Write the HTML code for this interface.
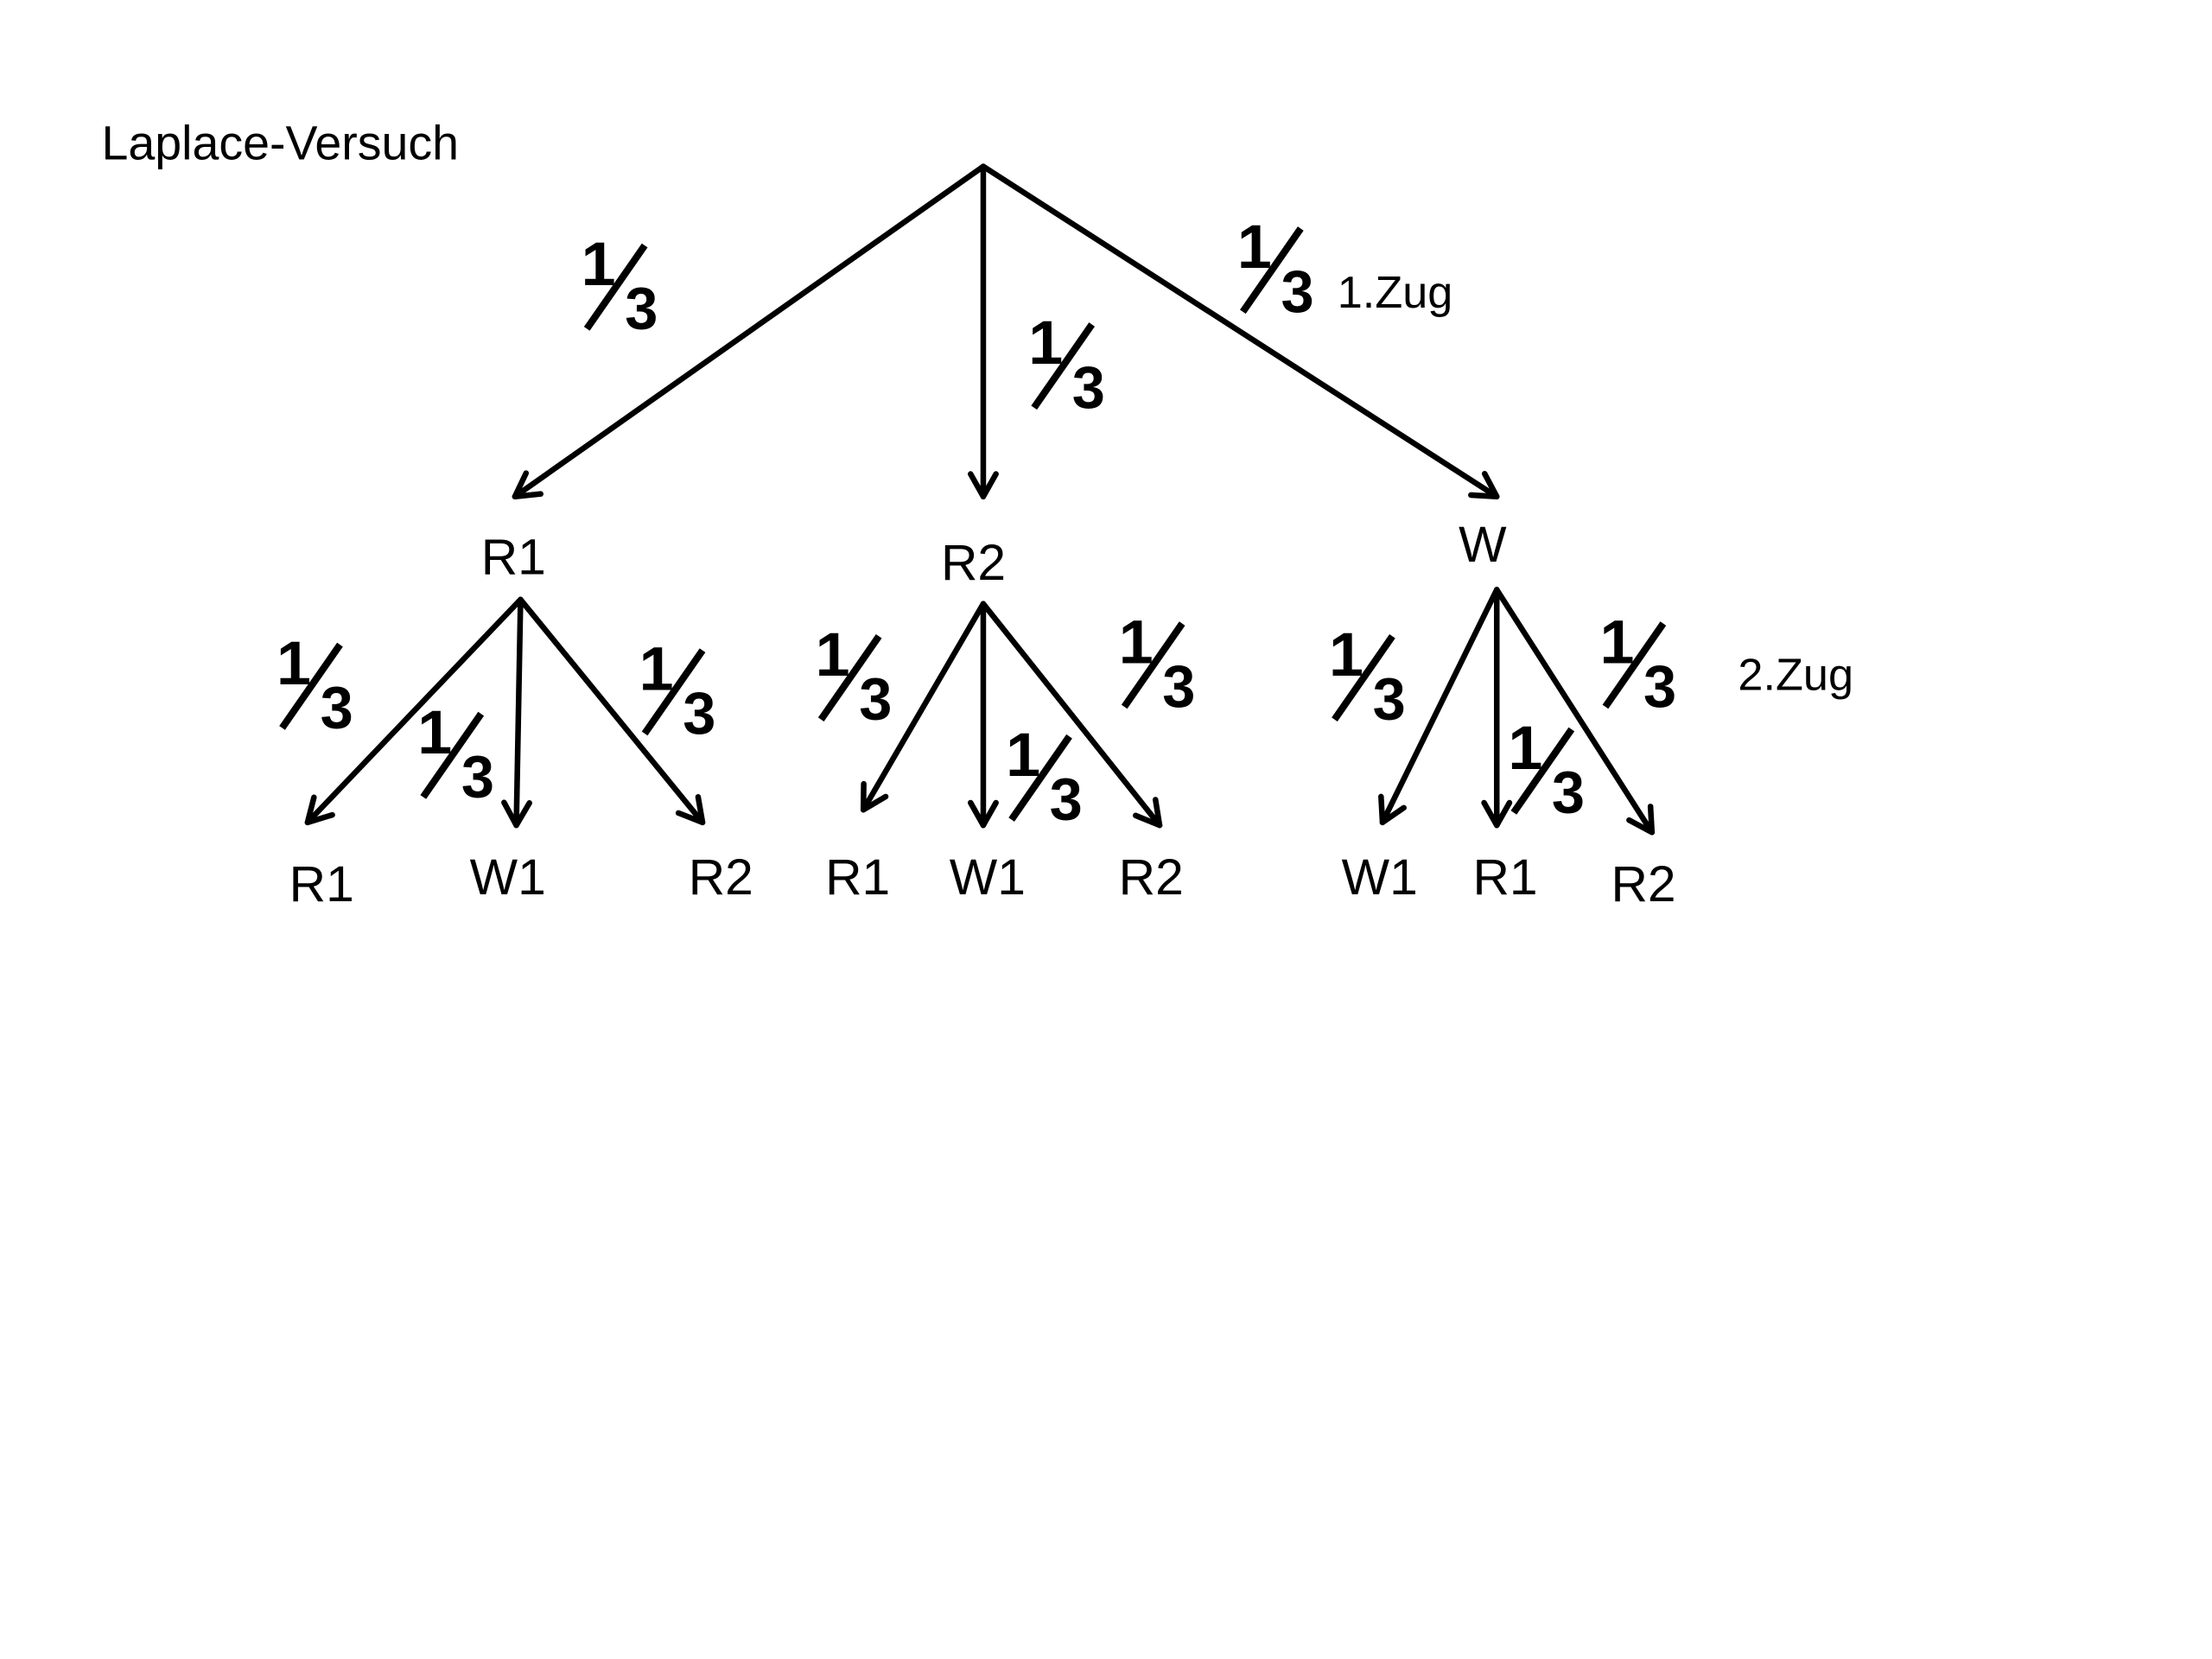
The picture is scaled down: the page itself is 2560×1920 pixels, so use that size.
<!DOCTYPE html>
<html><head><meta charset="utf-8"><style>
html,body{margin:0;padding:0;background:#fff;}
svg{display:block;}
text{font-family:"Liberation Sans",sans-serif;fill:#000;}
.l{font-size:36px;}
.f1{font-size:44px;font-weight:bold;}
.f3{font-size:42px;font-weight:bold;}
</style></head><body>
<svg width="2560" height="1920" viewBox="0 0 1568 1176" xmlns="http://www.w3.org/2000/svg">
<defs>
<marker id="a" markerUnits="userSpaceOnUse" viewBox="-20 -12 24 24" markerWidth="24" markerHeight="24" refX="0" refY="0" orient="auto">
<path d="M-16,-9 L0,0 L-16,9" fill="none" stroke="#000" stroke-width="4" stroke-linecap="round" stroke-linejoin="round"/>
</marker>
</defs>
<rect width="1568" height="1176" fill="#fff"/>
<g stroke="#000" stroke-width="4" fill="none" marker-end="url(#a)" stroke-linecap="round">
<line x1="697" y1="118" x2="365" y2="352"/>
<line x1="697" y1="118" x2="697" y2="352"/>
<line x1="697" y1="118" x2="1061" y2="352"/>
<line x1="369" y1="425" x2="218" y2="583"/>
<line x1="369" y1="425" x2="366" y2="585"/>
<line x1="369" y1="425" x2="498" y2="583"/>
<line x1="697" y1="428" x2="612" y2="574"/>
<line x1="697" y1="428" x2="697" y2="585"/>
<line x1="697" y1="428" x2="822" y2="585"/>
<line x1="1061" y1="418" x2="980" y2="583"/>
<line x1="1061" y1="418" x2="1061" y2="585"/>
<line x1="1061" y1="418" x2="1171" y2="590"/>
</g>
<text x="72" y="113" style="font-size:34px">Laplace-Versuch</text>
<text x="948" y="218" style="font-size:32px">1.Zug</text>
<text x="1232" y="489" style="font-size:32px">2.Zug</text>
<g class="l" text-anchor="middle">
<text x="364" y="407">R1</text>
<text x="690" y="411">R2</text>
<text x="1051" y="398">W</text>
<text x="228" y="639">R1</text>
<text x="360" y="634">W1</text>
<text x="511" y="634">R2</text>
<text x="608" y="634">R1</text>
<text x="700" y="634">W1</text>
<text x="816" y="634">R2</text>
<text x="978" y="634">W1</text>
<text x="1067" y="634">R1</text>
<text x="1165" y="639">R2</text>
</g>
<g>
<g transform="translate(440,205)"><text class="f1" x="-28" y="-3">1</text><line x1="-24" y1="28" x2="17" y2="-31" stroke="#000" stroke-width="5"/><text class="f3" x="3" y="28">3</text></g>
<g transform="translate(757,261)"><text class="f1" x="-28" y="-3">1</text><line x1="-24" y1="28" x2="17" y2="-31" stroke="#000" stroke-width="5"/><text class="f3" x="3" y="28">3</text></g>
<g transform="translate(905,193)"><text class="f1" x="-28" y="-3">1</text><line x1="-24" y1="28" x2="17" y2="-31" stroke="#000" stroke-width="5"/><text class="f3" x="3" y="28">3</text></g>
<g transform="translate(224,488)"><text class="f1" x="-28" y="-3">1</text><line x1="-24" y1="28" x2="17" y2="-31" stroke="#000" stroke-width="5"/><text class="f3" x="3" y="28">3</text></g>
<g transform="translate(324,537)"><text class="f1" x="-28" y="-3">1</text><line x1="-24" y1="28" x2="17" y2="-31" stroke="#000" stroke-width="5"/><text class="f3" x="3" y="28">3</text></g>
<g transform="translate(481,492)"><text class="f1" x="-28" y="-3">1</text><line x1="-24" y1="28" x2="17" y2="-31" stroke="#000" stroke-width="5"/><text class="f3" x="3" y="28">3</text></g>
<g transform="translate(606,482)"><text class="f1" x="-28" y="-3">1</text><line x1="-24" y1="28" x2="17" y2="-31" stroke="#000" stroke-width="5"/><text class="f3" x="3" y="28">3</text></g>
<g transform="translate(821,473)"><text class="f1" x="-28" y="-3">1</text><line x1="-24" y1="28" x2="17" y2="-31" stroke="#000" stroke-width="5"/><text class="f3" x="3" y="28">3</text></g>
<g transform="translate(741,553)"><text class="f1" x="-28" y="-3">1</text><line x1="-24" y1="28" x2="17" y2="-31" stroke="#000" stroke-width="5"/><text class="f3" x="3" y="28">3</text></g>
<g transform="translate(970,482)"><text class="f1" x="-28" y="-3">1</text><line x1="-24" y1="28" x2="17" y2="-31" stroke="#000" stroke-width="5"/><text class="f3" x="3" y="28">3</text></g>
<g transform="translate(1162,473)"><text class="f1" x="-28" y="-3">1</text><line x1="-24" y1="28" x2="17" y2="-31" stroke="#000" stroke-width="5"/><text class="f3" x="3" y="28">3</text></g>
<g transform="translate(1097,548)"><text class="f1" x="-28" y="-3">1</text><line x1="-24" y1="28" x2="17" y2="-31" stroke="#000" stroke-width="5"/><text class="f3" x="3" y="28">3</text></g>
</g>
</svg>
</body></html>
